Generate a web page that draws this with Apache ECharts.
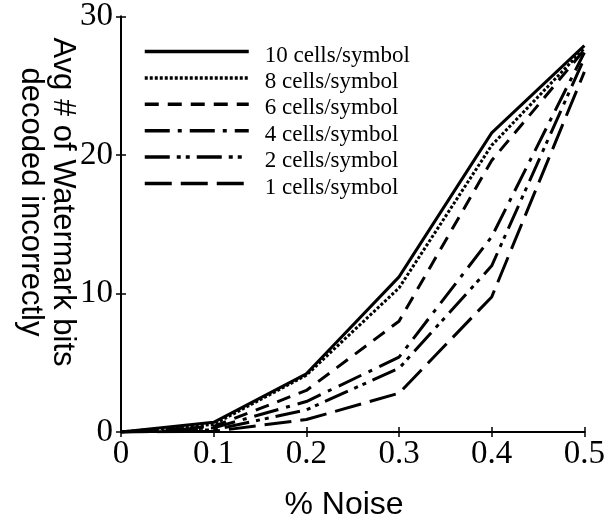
<!DOCTYPE html>
<html>
<head>
<meta charset="utf-8">
<script src="https://cdn.jsdelivr.net/npm/echarts@6/dist/echarts.min.js"></script>
<style>
html,body{margin:0;padding:0;background:#fff;}
#chart{width:608px;height:522px;}
</style>
</head>
<body>
<div id="chart"></div>
<script>
var noise = [0, 0.1, 0.2, 0.3, 0.4, 0.5];
var seriesNames = ['10 cells/symbol', '8 cells/symbol', '6 cells/symbol', '4 cells/symbol', '2 cells/symbol', '1 cells/symbol'];
var c10 = [0, 0.7, 4.2, 11.2, 21.6, 27.9];
var c8  = [0, 0.55, 4.1, 10.4, 20.7, 27.7];
var c6  = [0, 0.4, 3.0, 8.0, 19.6, 27.6];
var c4  = [0, 0.3, 2.2, 5.4, 14.1, 27.4];
var c2  = [0, 0.15, 1.6, 4.6, 12.0, 27.0];
var c1  = [0, 0.05, 0.9, 2.8, 9.75, 26.0];
var yTicks = [0, 10, 20, 30];
var xTitle = '% Noise';
var yTitle = 'Avg # of Watermark bits\ndecoded incorrectly';

var allData = [c10, c8, c6, c4, c2, c1];
var dashes = ['solid', [3, 2], [14, 9], [25, 8, 4, 8], [25, 7, 4, 5, 4, 7], [27, 9]];

var serif = '"Liberation Serif", "Times New Roman", serif';
var sans = '"Liberation Sans", Arial, sans-serif';

var chart = echarts.init(document.getElementById('chart'));
var axisLine = {show: true, lineStyle: {color: '#000', width: 2}};
var axisTick = {show: true, inside: true, length: 5, lineStyle: {color: '#000', width: 1.5}};

chart.setOption({
  animation: false,
  backgroundColor: '#fff',
  grid: {left: 121, right: 20, top: 16, bottom: 90, containLabel: false},
  xAxis: [{
    type: 'value', min: noise[0], max: noise[noise.length - 1], interval: 0.1,
    axisLine: axisLine, axisTick: axisTick, splitLine: {show: false},
    axisLabel: {color: '#000', fontFamily: serif, fontSize: 33, margin: 6}
  }, {
    type: 'value', position: 'top', min: noise[0], max: noise[noise.length - 1], interval: 0.1,
    axisLine: axisLine, axisTick: axisTick, splitLine: {show: false}, axisLabel: {show: false}
  }],
  yAxis: [{
    type: 'value', min: yTicks[0], max: yTicks[yTicks.length - 1], interval: 10,
    axisLine: axisLine, axisTick: axisTick, splitLine: {show: false},
    axisLabel: {color: '#000', fontFamily: serif, fontSize: 33, margin: 8}
  }, {
    type: 'value', position: 'right', min: yTicks[0], max: yTicks[yTicks.length - 1], interval: 10,
    axisLine: axisLine, axisTick: axisTick, splitLine: {show: false}, axisLabel: {show: false}
  }],
  legend: {
    left: 143, top: 36, orient: 'vertical', padding: 0,
    itemWidth: 104, itemHeight: 14, itemGap: -4.6,
    itemStyle: {opacity: 0},
    lineStyle: {width: 3.5},
    formatter: function (name) { return '{a|' + name + '}'; },
    textStyle: {
      color: '#000', fontFamily: serif, fontSize: 23, padding: [0, 0, 0, 11],
      rich: {a: {color: '#000', fontFamily: serif, fontSize: 23, lineHeight: 18, padding: [8, 0, 0, 0]}}
    },
    data: seriesNames
  },
  graphic: [{
    type: 'text', x: 47, y: 202, rotation: -Math.PI / 2,
    style: {text: yTitle, fill: '#000', font: '31px ' + sans, lineHeight: 32, align: 'center', verticalAlign: 'middle'}
  }, {
    type: 'text', x: 344, y: 505,
    style: {text: xTitle, fill: '#000', font: '32px ' + sans, align: 'center', verticalAlign: 'middle'}
  }],
  series: allData.map(function (vals, i) {
    return {
      name: seriesNames[i], type: 'line', symbol: 'none',
      data: noise.map(function (x, j) { return [x, vals[j]]; }),
      lineStyle: {color: '#000', width: 3, type: dashes[i]},
      itemStyle: {color: '#000'},
      z: 10 - i
    };
  })
});
</script>
</body>
</html>
